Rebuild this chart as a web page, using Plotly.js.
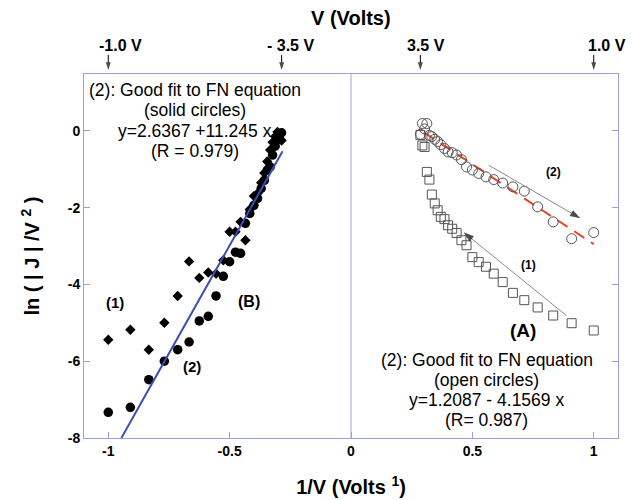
<!DOCTYPE html>
<html>
<head>
<meta charset="utf-8">
<script src="https://cdn.plot.ly/plotly-3.0.1.min.js"></script>
<style>html,body{margin:0;padding:0;background:#fff;}#chart{width:633px;height:500px;}</style>
</head>
<body>
<div id="chart"></div>
<script>
// Left panel (negative bias), x = 1/V
const xNeg = [-1.0, -0.909, -0.833, -0.769, -0.714, -0.667, -0.625, -0.588, -0.556, -0.526, -0.5, -0.476, -0.455, -0.435, -0.417, -0.4, -0.385, -0.370, -0.357, -0.345, -0.333, -0.323, -0.3125, -0.303, -0.294, -0.286];
const solidCircles = [-7.33, -7.20, -6.48, -6.00, -5.70, -5.50, -4.95, -4.83, -4.30, -3.79, -3.41, -3.16, -3.19, -2.41, -2.15, -1.94, -1.76, -1.50, -1.29, -1.02, -0.94, -0.63, -0.40, -0.22, -0.10, -0.05];
const diamonds = [-5.44, -5.18, -5.70, -5.00, -4.30, -3.40, -3.83, -3.69, -3.72, -3.37, -2.63, -2.63, -2.37, -2.85, -2.05, -1.70, -1.63, -1.35, -1.10, -0.80, -0.50, -0.30, -0.15, -0.03, -0.20, -0.25];
// Right panel (positive bias)
const xPos = [0.286, 0.294, 0.303, 0.3125, 0.323, 0.333, 0.345, 0.357, 0.370, 0.385, 0.4, 0.417, 0.435, 0.455, 0.476, 0.5, 0.526, 0.556, 0.588, 0.625, 0.667, 0.714, 0.769, 0.833, 0.909, 1.0];
const openCircles = [-0.09, 0.19, 0.05, 0.19, -0.12, -0.15, -0.22, -0.28, -0.36, -0.46, -0.55, -0.57, -0.63, -0.75, -0.94, -1.02, -1.11, -1.20, -1.27, -1.36, -1.46, -1.57, -1.98, -2.37, -2.81, -2.65];
const openSquares = [-0.11, -0.38, -0.42, -1.07, -1.27, -1.66, -1.89, -2.07, -2.24, -2.30, -2.46, -2.55, -2.66, -2.85, -2.98, -3.29, -3.42, -3.54, -3.72, -3.94, -4.22, -4.41, -4.60, -4.81, -5.01, -5.20];
// Fit lines (end points)
const fitLeftX = [-0.946, -0.282];
const fitLeftY = [-8.0, -0.534];
const fitRightX = [0.30, 1.0];
const fitRightY = [-0.04, -2.95];
// Direction arrows (tail -> head)
const arrow2X = [0.567, 0.945];
const arrow2Y = [-0.894, -2.28];
const arrow1X = [0.887, 0.464];
const arrow1Y = [-4.81, -2.64];
// Tick labels
const xTickVals = [-1, -0.5, 0, 0.5, 1];
const xTickText = ["-1", "-0.5", "0", "0.5", "1"];
const yTickVals = [0, -2, -4, -6, -8];
const yTickText = ["0", "-2", "-4", "-6", "-8"];
// Top voltage markers (1/V positions) and their labels
const topVx = [-1.0, -0.2857, 0.2857, 1.0];
const topVText = ["-1.0 V", "- 3.5 V", "3.5 V", "1.0 V"];
const topVLabelX = [-0.949, -0.251, 0.308, 1.055];
// Fit text blocks
const leftFitText = ["(2): Good fit to FN equation", "(solid circles)", "y=2.6367 +11.245 x", "(R = 0.979)"];
const leftFitY = [1.06, 0.54, 0.0, -0.52];
const rightFitText = ["(2): Good fit to FN equation", "(open circles)", "y=1.2087 - 4.1569 x", "(R= 0.987)"];
const rightFitY = [-5.98, -6.50, -7.02, -7.53];

const FONT = "Arial, 'Liberation Sans', sans-serif";
const AXC = "#9c9fdc";
// paper: top margin 40px, plot area y 74..438, strip above plot 40..74
const PAPER_H = 500 - 40 - 62;
const PLOT_TOP = (438 - 74) / PAPER_H;

function arrowTrace(xs, ys, yaxis, lineColor, size) {
  return {x: xs, y: ys, mode: "lines+markers", type: "scatter", yaxis: yaxis, cliponaxis: false,
    line: {color: lineColor, width: 1},
    marker: {symbol: ["circle", "arrow"], size: [0, size], color: "#000", angleref: "previous",
      line: {width: 0}}};
}

const traces = [
  {x: xNeg, y: diamonds, mode: "markers", type: "scatter",
   marker: {symbol: "diamond", size: 8, color: "#000"}},
  {x: xNeg, y: solidCircles, mode: "markers", type: "scatter",
   marker: {symbol: "circle", size: 9.5, color: "#000"}},
  {x: fitLeftX, y: fitLeftY, mode: "lines", type: "scatter",
   line: {color: "#3b4db3", width: 2}},
  {x: xPos, y: openSquares, mode: "markers", type: "scatter",
   marker: {symbol: "square-open", size: 9, color: "#555", line: {width: 1}}},
  {x: fitRightX, y: fitRightY, mode: "lines", type: "scatter",
   line: {color: "#e8442a", width: 2, dash: "12px,8px"}},
  {x: xPos, y: openCircles, mode: "markers", type: "scatter",
   marker: {symbol: "circle-open", size: 10, color: "#555", line: {width: 1}}},
  arrowTrace(arrow2X, arrow2Y, "y", "#8a8a8a", 11),
  arrowTrace(arrow1X, arrow1Y, "y", "#8a8a8a", 11)
];
// top strip arrows (y2 runs 0 at plot top .. 1 at strip top)
topVx.forEach(v => traces.push(arrowTrace([v, v], [0.56, 0.12], "y2", "#000", 8)));

const ann = [];
ann.push({xref: "paper", yref: "paper", x: 0.5, y: (438 - 18) / PAPER_H, text: "<b>V (Volts)</b>", showarrow: false,
  font: {family: FONT, size: 20, color: "#000"}, xanchor: "center", yanchor: "middle"});
topVText.forEach((t, i) => ann.push({xref: "x", yref: "paper", x: topVLabelX[i], y: (438 - 45) / PAPER_H,
  text: "<b>" + t + "</b>", showarrow: false, xanchor: "center", yanchor: "middle",
  font: {family: FONT, size: 16, color: "#000"}}));
leftFitText.forEach((t, i) => ann.push({xref: "x", yref: "y", x: -0.644, y: leftFitY[i], text: t,
  showarrow: false, font: {family: FONT, size: 17.5, color: "#000"}}));
rightFitText.forEach((t, i) => ann.push({xref: "x", yref: "y", x: 0.559, y: rightFitY[i], text: t,
  showarrow: false, font: {family: FONT, size: 17.5, color: "#000"}}));
const labels = [
  {x: -0.973, y: -4.47, t: "(1)", s: 15},
  {x: -0.657, y: -6.13, t: "(2)", s: 15},
  {x: -0.419, y: -4.44, t: "(B)", s: 16},
  {x: 0.710, y: -5.19, t: "(A)", s: 19},
  {x: 0.834, y: -1.08, t: "(2)", s: 12},
  {x: 0.731, y: -3.50, t: "(1)", s: 12}
];
labels.forEach(l => ann.push({xref: "x", yref: "y", x: l.x, y: l.y, text: "<b>" + l.t + "</b>",
  showarrow: false, font: {family: FONT, size: l.s, color: "#000"}}));

const layout = {
  width: 633, height: 500,
  margin: {l: 84, r: 15, t: 40, b: 62},
  paper_bgcolor: "#fff", plot_bgcolor: "rgba(0,0,0,0)",
  showlegend: false,
  font: {family: FONT, color: "#000"},
  xaxis: {range: [-1.1, 1.1], tickvals: xTickVals, ticktext: xTickText, anchor: "y",
    showgrid: false, zeroline: false, showline: true, linecolor: AXC, linewidth: 1, mirror: true,
    ticks: "inside", ticklen: 6, tickcolor: AXC,
    tickfont: {family: FONT, size: 14, color: "#000", weight: "bold"},
    title: {text: "<b>1/V (Volts <sup>1</sup>)</b>", font: {family: FONT, size: 20, color: "#000"}, standoff: 22}},
  yaxis: {domain: [0, PLOT_TOP], range: [-8, 1.48], tickvals: yTickVals, ticktext: yTickText, anchor: "x",
    showgrid: false, zeroline: false, showline: true, linecolor: AXC, linewidth: 1, mirror: "ticks",
    ticks: "inside", ticklen: 6, tickcolor: AXC,
    tickfont: {family: FONT, size: 14, color: "#000", weight: "bold"},
    title: {text: "<b>ln ( | J | /V <sup>2</sup> )</b>", font: {family: FONT, size: 20, color: "#000"}, standoff: 22}},
  yaxis2: {domain: [PLOT_TOP, 1], range: [0, 1], anchor: "x", visible: false, fixedrange: true},
  shapes: [{type: "line", xref: "x", yref: "y domain", x0: 0, x1: 0, y0: 0, y1: 1,
    line: {color: AXC, width: 1}}],
  annotations: ann
};
Plotly.newPlot("chart", traces, layout, {displayModeBar: false, staticPlot: true});
</script>
</body>
</html>
